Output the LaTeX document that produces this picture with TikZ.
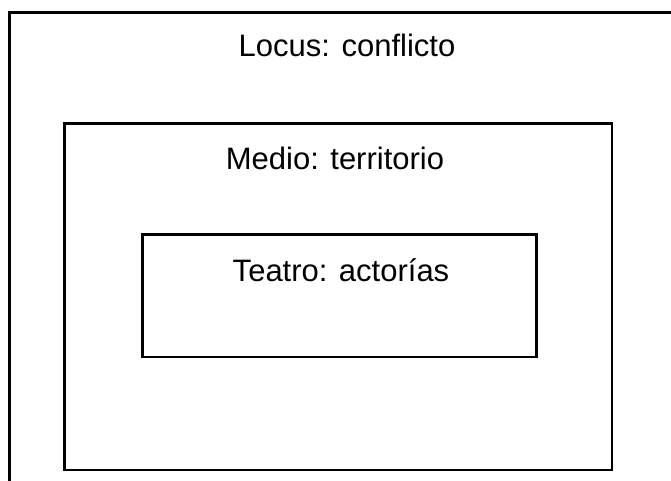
\documentclass[tikz,border=0pt]{standalone}
\usepackage{fontspec}
\setmainfont{Liberation Sans}
\usepackage{tikz}
\usetikzlibrary{positioning}

\tikzset{
  caja/.style={draw, line width=2.7pt, rectangle, inner sep=0pt},
  rotulo/.style={anchor=base, inner sep=0pt, font=\fontsize{31}{37}\selectfont}
}

\begin{document}
\begin{tikzpicture}[x=1pt,y=-1pt]
			\useasboundingbox (0,0) rectangle (671,481);
			% marco exterior, abierto a la derecha y abajo
			\coordinate (locusabajo) at (9.3,481);
			\coordinate (locusesq) at (9.3,12.3);
			\coordinate (locusder) at (671,12.3);
			\draw[line width=2.7pt] (locusabajo) -- (locusesq) -- (locusder);
			\node[rotulo] (locus) at (347,56.7) {Locus: conflicto};
			\node[caja, minimum width=547.3pt, minimum height=346.3pt] (medio) at (338.35,296.85) {};
			\node[rotulo] (mediotxt) at (335,169) {Medio: territorio};
			\node[caja, minimum width=393.8pt, minimum height=122.3pt] (teatro) at (339.6,295.85) {};
			\node[rotulo] (teatrotxt) at (341,281) {Teatro: actorías};
		\end{tikzpicture}
\end{document}
